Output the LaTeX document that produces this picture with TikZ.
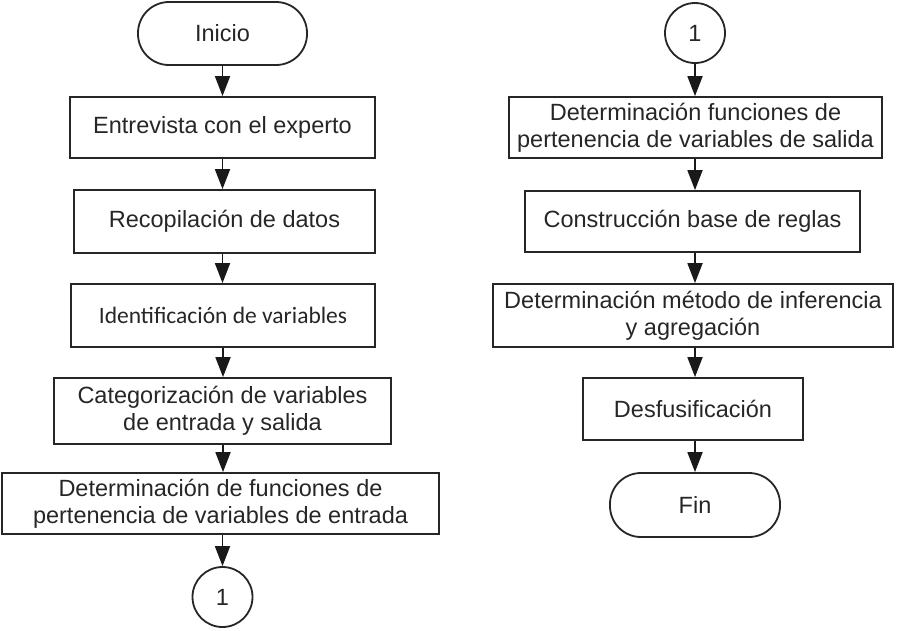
\documentclass[tikz,border=0pt]{standalone}
\usepackage{fontspec}
\setmainfont{Liberation Sans}
\newfontfamily\calibri{Carlito}
\usetikzlibrary{arrows.meta}

\begin{document}
\begin{tikzpicture}[x=1pt,y=-1pt,
        caja/.style={draw=black!85,line width=1.8pt,text=black!85,align=center,inner sep=0pt,font=\fontsize{23.5}{27}\selectfont},
        term/.style={caja,rounded corners=31pt},
        conector/.style={caja,circle,minimum size=60pt},
        flecha/.style={draw=black!90,line width=1.8pt,-{Triangle[length=20pt,width=15pt]}}]
        \useasboundingbox (0,0) rectangle (897,630);
        \node[term,minimum width=169pt,minimum height=63pt] (ini) at (222.5,33.5) {Inicio};
        \node[caja,minimum width=305pt,minimum height=61pt] (ent) at (222.5,127.5) {Entrevista con el experto};
        \node[caja,minimum width=301pt,minimum height=63pt] (rec) at (224.5,221.5) {Recopilación de datos};
        \node[caja,minimum width=304pt,minimum height=63pt,font=\calibri\fontsize{23.5}{27}\selectfont] (ide) at (223,315.5) {Identificación de variables};
        \node[caja,minimum width=337pt,minimum height=66pt] (cat) at (222.5,411) {Categorización de variables\\de entrada y salida};
        \node[caja,minimum width=437pt,minimum height=61pt] (dfe) at (220.5,503.5) {Determinación de funciones de\\pertenencia de variables de entrada};
        \node[conector] (c1) at (222.5,597) {1};
        \node[conector] (c2) at (695,33) {1};
        \node[caja,minimum width=373pt,minimum height=61pt] (dfs) at (695.5,127.5) {Determinación funciones de\\pertenencia de variables de salida};
        \node[caja,minimum width=335pt,minimum height=61pt] (bas) at (692.5,221.5) {Construcción base de reglas};
        \node[caja,minimum width=400pt,minimum height=63pt] (inf) at (693,315.5) {Determinación método de inferencia\\y agregación};
        \node[caja,minimum width=220pt,minimum height=62pt] (des) at (693,409) {Desfusificación};
        \node[term,minimum width=170pt,minimum height=64pt] (fin) at (695,505) {Fin};
        \draw[flecha] (ini.south) -- (ini.south |- ent.north);
        \draw[flecha] (ent.south) -- (ent.south |- rec.north);
        \draw[flecha] (ent.south |- rec.south) -- (ent.south |- ide.north);
        \draw[flecha] (ide.south) -- (ide.south |- cat.north);
        \draw[flecha] (ide.south |- cat.south) -- (ide.south |- dfe.north);
        \draw[flecha] (c1.north |- dfe.south) -- (c1.north);
        \draw[flecha] (c2.south) -- (c2.south |- dfs.north);
        \draw[flecha] (c2.south |- dfs.south) -- (c2.south |- bas.north);
        \draw[flecha] (c2.south |- bas.south) -- (c2.south |- inf.north);
        \draw[flecha] (c2.south |- inf.south) -- (c2.south |- des.north);
        \draw[flecha] (des.south -| fin.north) -- (fin.north);
\end{tikzpicture}
\end{document}
